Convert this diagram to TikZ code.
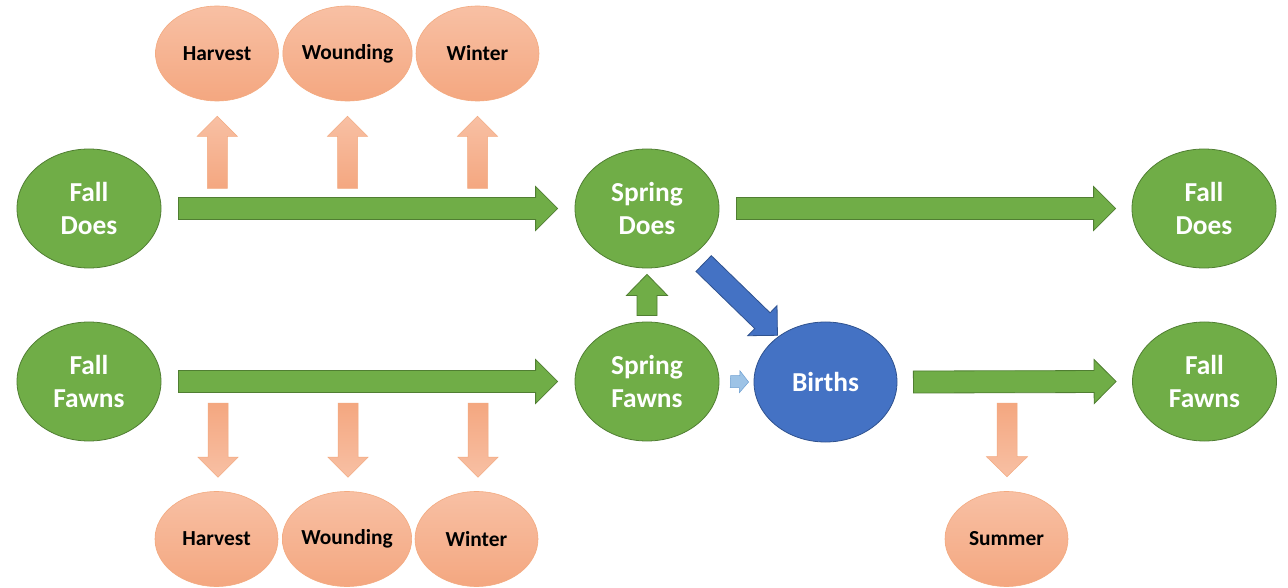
\documentclass[tikz,border=0pt]{standalone}
\usepackage{fontspec}
\setmainfont{Carlito}
\usetikzlibrary{calc,shapes.geometric}
\definecolor{gfill}{RGB}{112,173,71}
\definecolor{gline}{RGB}{80,126,50}
\definecolor{bfill}{RGB}{68,114,196}
\definecolor{bline}{RGB}{47,82,143}
\definecolor{otop}{RGB}{248,192,164}
\definecolor{obot}{RGB}{244,167,128}
\definecolor{oline}{RGB}{243,170,128}
\definecolor{lbfill}{RGB}{157,195,230}
\definecolor{lbline}{RGB}{110,160,210}
\newcommand{\blockarrow}[6]{% style, start, tip, shaft half, head half, head length
  \path ($#3!#6!#2$) coordinate (hb);
  \path[#1] ($#2!#4!90:#3$) -- ($(hb)!#4!90:#3$) -- ($(hb)!#5!90:#3$) -- #3
    -- ($(hb)!#5!-90:#3$) -- ($(hb)!#4!-90:#3$) -- ($#2!#4!-90:#3$) -- cycle;
}
\tikzset{
  gnode/.style={ellipse, draw=gline, fill=gfill, line width=0.8bp,
    minimum width=144bp, minimum height=119bp, inner sep=0pt, text=white,
    align=center, font=\bfseries\fontsize{27.5}{33}\selectfont},
  bnode/.style={gnode, draw=bline, fill=bfill},
  onode/.style={ellipse, draw=oline, line width=0.6bp, top color=otop, bottom color=obot,
    minimum width=123bp, minimum height=95bp, inner sep=0pt, text=black,
    font=\bfseries\fontsize{21.5}{25}\selectfont},
  garrow/.style={fill=gfill, draw=gline, line width=0.8bp},
  barrow/.style={fill=bfill, draw=bline, line width=0.8bp},
  lbarrow/.style={fill=lbfill, draw=lbline, line width=0.5bp},
  oup/.style={top color=otop, bottom color=obot, draw=oline, line width=0.5bp},
  odown/.style={top color=obot, bottom color=otop, draw=oline, line width=0.5bp},
}
\begin{document}
\begin{tikzpicture}[x=1bp,y=-1bp]
\useasboundingbox[fill=white] (0,0) rectangle (1288,588);
% green / blue nodes
\node[gnode] (fd) at (89,208.5) {Fall\\Does};
\node[gnode] (ff) at (89,381.5) {Fall\\Fawns};
\node[gnode] (sd) at (647,208.5) {Spring\\Does};
\node[gnode] (sf) at (647,381.5) {Spring\\Fawns};
\node[bnode, minimum width=143bp, minimum height=120bp] (bi) at (825.5,382) {Births};
\node[gnode] (fd2) at (1204,208.5) {Fall\\Does};
\node[gnode] (ff2) at (1204.5,381.5) {Fall\\Fawns};
% orange nodes
\node[onode] (h1) at (217,53.5) {Harvest};
\node[onode] (w1) at (347.5,53.5) {Wounding};
\node[onode] (wi1) at (477.5,53.5) {Winter};
\node[onode] (h2) at (216.5,539) {Harvest};
\node[onode] (w2) at (347,539) {Wounding};
\node[onode] (wi2) at (476.5,539) {Winter};
\node[onode] (su) at (1006.5,539) {Summer};
% green horizontal arrows
\coordinate (a1s) at ($(fd.east)+(17,0)$);
\coordinate (a1t) at ($(sd.west)+(-17,0)$);
\blockarrow{garrow}{(a1s)}{(a1t)}{11bp}{22bp}{22bp}
\coordinate (a2s) at ($(sd.east)+(17,0)$);
\coordinate (a2t) at ($(fd2.west)+(-16,0)$);
\blockarrow{garrow}{(a2s)}{(a2t)}{11bp}{22bp}{22bp}
\coordinate (a3s) at ($(ff.east)+(17,0)$);
\coordinate (a3t) at ($(sf.west)+(-17,0)$);
\blockarrow{garrow}{(a3s)}{(a3t)}{11bp}{22bp}{22bp}
\coordinate (a4s) at ($(bi.east)+(16,0)$);
\coordinate (a4t) at ($(ff2.west)+(-16,0)$);
\blockarrow{garrow}{(a4s)}{(a4t)}{11bp}{22bp}{22bp}
% green up arrow
\coordinate (a5s) at ($(sf.north)+(0,-6)$);
\coordinate (a5t) at ($(sd.south)+(0,6)$);
\blockarrow{garrow}{(a5s)}{(a5t)}{10bp}{20.5bp}{21bp}
% blue diagonal arrow
\coordinate (a6s) at ($(sd)!79bp!(bi)$);
\coordinate (a6t) at ($(bi)!67bp!(sd)$);
\blockarrow{barrow}{(a6s)}{(a6t)}{11bp}{21bp}{21bp}
% light blue small arrow
\coordinate (a7s) at ($(sf.east)+(11,0)$);
\coordinate (a7t) at ($(bi.west)+(-5,0)$);
\blockarrow{lbarrow}{(a7s)}{(a7t)}{6bp}{11bp}{9bp}
% orange up arrows
\coordinate (u1s) at ($(h1.south)+(0.3,87)$);
\coordinate (u1t) at ($(h1.south)+(0.3,15)$);
\blockarrow{oup}{(u1s)}{(u1t)}{10bp}{20bp}{20bp}
\coordinate (u2s) at ($(w1.south)+(0,87)$);
\coordinate (u2t) at ($(w1.south)+(0,15)$);
\blockarrow{oup}{(u2s)}{(u2t)}{10bp}{20bp}{20bp}
\coordinate (u3s) at ($(wi1.south)+(0,87)$);
\coordinate (u3t) at ($(wi1.south)+(0,15)$);
\blockarrow{oup}{(u3s)}{(u3t)}{10bp}{20bp}{20bp}
% orange down arrows
\coordinate (d1s) at ($(h2.north)+(1.5,-88)$);
\coordinate (d1t) at ($(h2.north)+(1.5,-14)$);
\blockarrow{odown}{(d1s)}{(d1t)}{10bp}{20bp}{20bp}
\coordinate (d2s) at ($(w2.north)+(1,-88)$);
\coordinate (d2t) at ($(w2.north)+(1,-14)$);
\blockarrow{odown}{(d2s)}{(d2t)}{10bp}{20bp}{20bp}
\coordinate (d3s) at ($(wi2.north)+(1.5,-88)$);
\coordinate (d3t) at ($(wi2.north)+(1.5,-14)$);
\blockarrow{odown}{(d3s)}{(d3t)}{10bp}{20bp}{20bp}
\coordinate (d4s) at ($(su.north)+(0.5,-88)$);
\coordinate (d4t) at ($(su.north)+(0.5,-14.5)$);
\blockarrow{odown}{(d4s)}{(d4t)}{10bp}{20.5bp}{20bp}
\end{tikzpicture}
\end{document}
